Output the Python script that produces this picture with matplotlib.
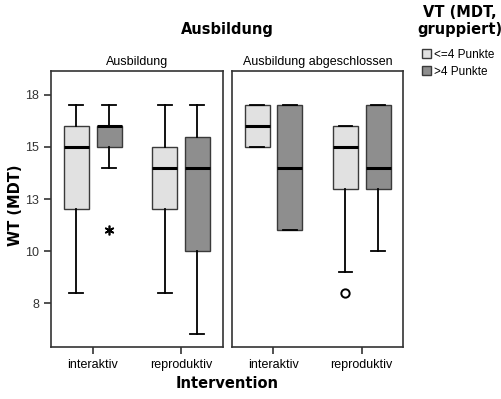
"""
Clustered boxplot: WT (MDT) by intervention, split by Ausbildung,
grouped by VT (MDT, gruppiert).
"""

import matplotlib.pyplot as plt
from matplotlib.patches import Patch

panels = ["Ausbildung", "Ausbildung abgeschlossen"]
categories = ["interaktiv", "reproduktiv"]
groups = ["<=4 Punkte", ">4 Punkte"]

# box statistics per panel, in the order
# (interaktiv <=4, interaktiv >4, reproduktiv <=4, reproduktiv >4)
whislo = [[8, 14, 8, 6], [15, 11, 9, 10]]
q1 = [[12, 15, 12, 10], [15, 11, 13, 13]]
med = [[15, 16, 14, 14], [16, 14, 15, 14]]
q3 = [[16, 16, 15, 15.5], [17, 17, 16, 17]]
whishi = [[17, 17, 17, 17], [17, 17, 16, 17]]
fliers = [[[], [11], [], []], [[], [], [8], []]]
flier_markers = [["o", "*", "o", "o"], ["o", "o", "o", "o"]]

tick_values = [7.5, 10, 12.5, 15, 17.5]
tick_labels = ["8", "10", "13", "15", "18"]

colors = ["#e1e1e1", "#8e8e8e"]

plt.rcParams["font.family"] = ["Liberation Sans", "DejaVu Sans"]

fig = plt.figure(figsize=(5.01, 3.99), dpi=100)

offsets = [-0.185, 0.185]
box_width = 0.283

for p, panel in enumerate(panels):
    left = [0.1018, 0.4625][p]
    ax = fig.add_axes([left, 0.1303, 0.3427, 0.6917])

    stats = []
    positions = []
    for i in range(4):
        stats.append(
            {
                "whislo": whislo[p][i],
                "q1": q1[p][i],
                "med": med[p][i],
                "q3": q3[p][i],
                "whishi": whishi[p][i],
                "fliers": [],
            }
        )
        positions.append(i // 2 + offsets[i % 2])

    result = ax.bxp(
        stats,
        positions=positions,
        widths=box_width,
        patch_artist=True,
        showfliers=False,
        boxprops=dict(edgecolor="#3a3a3a", linewidth=1.0),
        medianprops=dict(color="black", linewidth=2.2, solid_capstyle="butt"),
        whiskerprops=dict(color="black", linewidth=1.3),
        capprops=dict(color="black", linewidth=1.3),
        capwidths=box_width * 0.55,
    )
    for i, box in enumerate(result["boxes"]):
        box.set_facecolor(colors[i % 2])

    # SPSS style: "*" for extreme values, "o" for outliers
    for i in range(4):
        values = fliers[p][i]
        if not values:
            continue
        if flier_markers[p][i] == "*":
            ax.plot(
                [positions[i]] * len(values),
                values,
                linestyle="none",
                marker=(6, 2, 0),
                markersize=7,
                markeredgecolor="black",
                markeredgewidth=1.2,
            )
        else:
            ax.plot(
                [positions[i]] * len(values),
                values,
                linestyle="none",
                marker="o",
                markersize=6,
                markerfacecolor="none",
                markeredgecolor="black",
                markeredgewidth=1.4,
            )

    ax.set_xlim(-0.472, 1.472)
    ax.set_ylim(5.39, 18.65)
    ax.set_xticks([0, 1])
    ax.set_xticklabels(categories, fontsize=9)
    ax.set_yticks(tick_values)
    if p == 0:
        ax.set_yticklabels(tick_labels, fontsize=9, color="#333333")
    else:
        ax.tick_params(axis="y", left=False, labelleft=False)
    ax.tick_params(axis="both", direction="out", length=5, width=1.2,
                   color="#333333")
    for spine in ax.spines.values():
        spine.set_color("#333333")
        spine.set_linewidth(1.2)
    ax.set_title(panel, fontsize=9, pad=4)

fig.text(0.453, 0.925, "Ausbildung", ha="center", va="center",
         fontsize=10.5, fontweight="bold", family="DejaVu Sans")
fig.text(0.453, 0.04, "Intervention", ha="center", va="center",
         fontsize=10.5, fontweight="bold", family="DejaVu Sans")
fig.text(0.03, 0.485, "WT (MDT)", ha="center", va="center", rotation=90,
         fontsize=10.5, fontweight="bold", family="DejaVu Sans")

fig.text(0.918, 0.948, "VT (MDT,\ngruppiert)", ha="center", va="center",
         fontsize=10.5, fontweight="bold", family="DejaVu Sans",
         linespacing=1.15)

handles = [
    Patch(facecolor=colors[0], edgecolor="#3a3a3a", label=groups[0]),
    Patch(facecolor=colors[1], edgecolor="#3a3a3a", label=groups[1]),
]
fig.legend(
    handles=handles,
    loc="upper left",
    bbox_to_anchor=(0.842, 0.878),
    frameon=False,
    fontsize=8.5,
    handlelength=0.8,
    handleheight=0.8,
    handletextpad=0.25,
    labelspacing=0.45,
    borderpad=0,
    borderaxespad=0,
)

fig.savefig("out.png", dpi=100)
